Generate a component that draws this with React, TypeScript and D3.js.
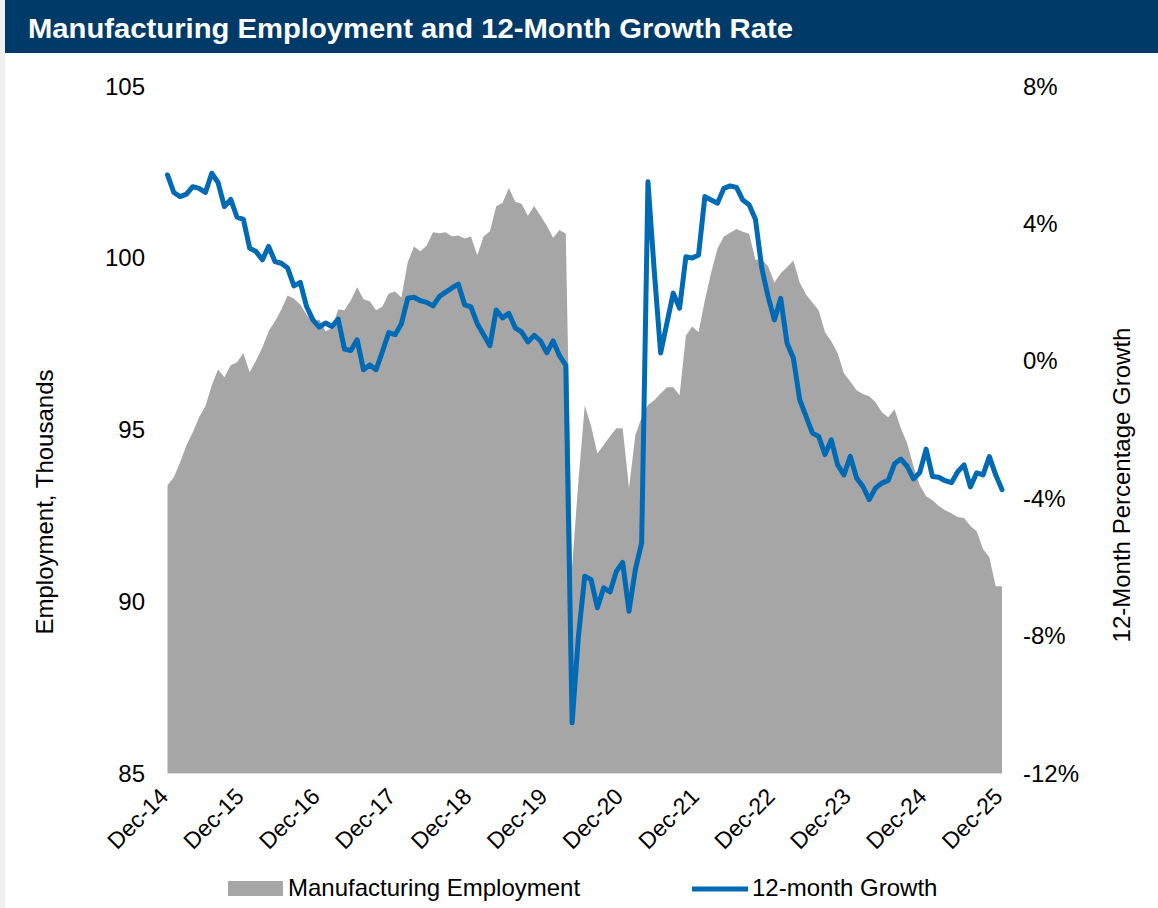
import React from "react";
import * as d3 from "d3";

// Monthly data, Dec-14 .. Dec-25 (133 months)
const employment: number[] = [
  93.38, 93.61, 94.05, 94.54, 94.92, 95.36, 95.68, 96.29, 96.75, 96.52, 96.87, 96.96,
  97.22, 96.67, 97.01, 97.39, 97.86, 98.15, 98.49, 98.9, 98.81, 98.64, 98.35, 98.12,
  98.2, 97.86, 97.95, 98.49, 98.47, 98.76, 99.14, 98.79, 98.73, 98.47, 98.58, 98.96,
  99.02, 98.84, 99.87, 100.33, 100.19, 100.36, 100.74, 100.71, 100.74, 100.62, 100.65, 100.56,
  100.62, 100.07, 100.62, 100.77, 101.5, 101.6, 102.03, 101.63, 101.57, 101.22, 101.51, 101.22,
  100.93, 100.58, 100.81, 100.7, 91.0, 93.5, 95.7, 95.1, 94.3, 94.55, 94.8, 95.04,
  95.04, 93.29, 94.83, 95.36, 95.71, 95.85, 96.05, 96.23, 96.23, 96.0, 97.74, 98.0,
  97.83, 98.76, 99.57, 100.27, 100.62, 100.73, 100.84, 100.76, 100.7, 99.94, 99.95, 99.75,
  99.28, 99.55, 99.72, 99.92, 99.28, 98.93, 98.7, 98.47, 97.83, 97.57, 97.22, 96.64,
  96.4, 96.14, 96.03, 95.97, 95.79, 95.5, 95.36, 95.59, 95.04, 94.6, 93.93, 93.38,
  93.06, 92.94, 92.77, 92.65, 92.56, 92.45, 92.42, 92.19, 92.04, 91.52, 91.28, 90.44,
  90.44,
];

const growth: number[] = [
  5.41, 4.9, 4.78, 4.85, 5.07, 5.02, 4.9, 5.46, 5.19, 4.49, 4.7, 4.18,
  4.12, 3.28, 3.18, 2.94, 3.33, 2.89, 2.84, 2.7, 2.18, 2.28, 1.58, 1.19,
  0.98, 1.1, 1.0, 1.21, 0.34, 0.3, 0.61, -0.26, -0.12, -0.26, 0.27, 0.82,
  0.76, 1.08, 1.82, 1.85, 1.75, 1.7, 1.6, 1.87, 2.0, 2.12, 2.23, 1.63,
  1.57, 1.08, 0.76, 0.44, 1.48, 1.25, 1.38, 0.96, 0.84, 0.55, 0.74, 0.58,
  0.23, 0.58, 0.15, -0.13, -10.54, -8.02, -6.27, -6.37, -7.19, -6.61, -6.73, -6.13,
  -5.87, -7.29, -6.08, -5.3, 5.21, 2.6, 0.23, 1.1, 1.97, 1.53, 3.03, 2.99,
  3.08, 4.78, 4.68, 4.59, 5.02, 5.09, 5.05, 4.68, 4.54, 4.12, 2.7, 1.87,
  1.19, 1.82, 0.51, 0.08, -1.13, -1.62, -2.1, -2.2, -2.73, -2.3, -3.03, -3.32,
  -2.78, -3.41, -3.66, -4.04, -3.7, -3.56, -3.48, -3.0, -2.86, -3.07, -3.44, -3.25,
  -2.57, -3.37, -3.39, -3.49, -3.55, -3.23, -3.03, -3.67, -3.26, -3.32, -2.79, -3.32,
  -3.75,
];

const xTickLabels: string[] = [
  "Dec-14", "Dec-15", "Dec-16", "Dec-17", "Dec-18", "Dec-19",
  "Dec-20", "Dec-21", "Dec-22", "Dec-23", "Dec-24", "Dec-25",
];
const leftTicks: number[] = [85, 90, 95, 100, 105];
const rightTicks: number[] = [-12, -8, -4, 0, 4, 8];

const W = 1158;
const H = 908;
const FONT = "'Liberation Sans', Arial, Helvetica, sans-serif";

export default function App() {
  const x = d3.scaleLinear().domain([0, employment.length - 1]).range([167.5, 1002]);
  const yL = d3.scaleLinear().domain([85, 105]).range([773, 86]);
  const yR = d3.scaleLinear().domain([-12, 8]).range([773, 86]);

  const area = d3
    .area<number>()
    .x((_, i) => x(i))
    .y0(yL(85))
    .y1((d) => yL(d));
  const line = d3
    .line<number>()
    .x((_, i) => x(i))
    .y((d) => yR(d));

  return (
    <svg
      width={W}
      height={H}
      style={{ position: "absolute", left: 0, top: 0, background: "#fff" }}
      fontFamily={FONT}
    >
      <rect x={0} y={0} width={W} height={H} fill="#ffffff" />
      <rect x={0} y={0} width={5} height={H} fill="#f0f0f0" />
      <rect x={5} y={0} width={W - 5} height={53} fill="#003A68" />
      <text x={28} y={38} fill="#ffffff" fontSize={28} fontWeight="bold" textLength={765} lengthAdjust="spacingAndGlyphs">
        Manufacturing Employment and 12-Month Growth Rate
      </text>

      <path d={area(employment) || ""} fill="#A6A6A6" />
      <line x1={x(0)} x2={x(employment.length - 1)} y1={773.5} y2={773.5} stroke="#d9d9d9" strokeWidth={1} />
      <path
        d={line(growth) || ""}
        fill="none"
        stroke="#006AB4"
        strokeWidth={5}
        strokeLinejoin="round"
        strokeLinecap="round"
      />

      {leftTicks.map((t) => (
        <text key={"l" + t} x={145} y={yL(t) + 8.5} fontSize={24} textAnchor="end" fill="#000">
          {t}
        </text>
      ))}
      {rightTicks.map((t) => (
        <text key={"r" + t} x={1023} y={yR(t) + 8.5} fontSize={24} textAnchor="start" fill="#000">
          {t + "%"}
        </text>
      ))}

      {xTickLabels.map((lab, k) => {
        const tx = x(k * 12) + 2;
        const ty = 798;
        return (
          <text
            key={lab}
            x={tx}
            y={ty}
            fontSize={23}
            textAnchor="end"
            transform={`rotate(-45 ${tx} ${ty})`}
            fill="#000"
          >
            {lab}
          </text>
        );
      })}

      <text
        x={0}
        y={0}
        transform="translate(53 502) rotate(-90)"
        fontSize={24}
        textAnchor="middle"
        fill="#000"
      >
        Employment, Thousands
      </text>
      <text
        x={0}
        y={0}
        transform="translate(1130 485) rotate(-90)"
        fontSize={24}
        textAnchor="middle"
        fill="#000"
      >
        12-Month Percentage Growth
      </text>

      <rect x={228} y={881} width={55} height={15} fill="#A6A6A6" />
      <text x={288} y={896} fontSize={24} fill="#000">
        Manufacturing Employment
      </text>
      <line x1={692} x2={748} y1={889} y2={889} stroke="#006AB4" strokeWidth={5} />
      <text x={752} y={896} fontSize={24} fill="#000">
        12-month Growth
      </text>
    </svg>
  );
}
